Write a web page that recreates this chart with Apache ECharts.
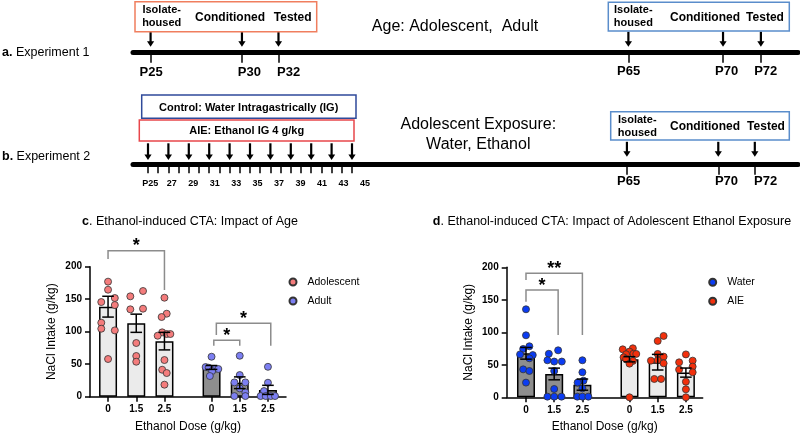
<!DOCTYPE html>
<html>
<head>
<meta charset="utf-8">
<script src="https://cdn.jsdelivr.net/npm/echarts@6.0.0/dist/echarts.min.js"></script>
<style>html,body{margin:0;padding:0;background:#fff;}#chart{width:800px;height:436px;}</style>
</head>
<body>
<div id="chart"></div>
<script>
// ================= DATA =================
const doseLabels = ['0', '1.5', '2.5', '0', '1.5', '2.5'];
const yTickValues = [0, 50, 100, 150, 200];

// Panel c: Impact of Age
const cSeriesNames = ['Adolescent', 'Adult'];
const cMean = [138.5, 113, 85.5, 45, 21.5, 10.5];
const cSem = [16, 14, 13.5, 3, 9, 7];
const cPoints = [
  [177, 164.6, 151.8, 145.6, 141, 113.8, 104.6, 102, 58],
  [162.6, 154.4, 135.4, 134.4, 82.6, 62.6, 53.8],
  [152.3, 127.7, 122.6, 99, 96.4, 96.4, 93.8, 56.4, 41.5, 36.4, 18.5],
  [61.5, 45.6, 44.6, 42.6, 42.6, 39.5, 31.8],
  [63, 33.3, 22, 22, 12.8, 6.7, 1, 1],
  [46, 21.5, 8.7, 1, 1, 1, 1]
];
const cJitter = [
  [0, 0, 0.24, -0.24, 0.24, -0.24, -0.24, 0.24, 0],
  [0.24, -0.21, 0.24, -0.21, 0, 0, 0],
  [0, 0.08, -0.1, -0.08, 0.08, 0.21, -0.24, 0, -0.08, 0.08, 0],
  [0, -0.21, -0.1, 0.1, 0.24, 0.02, -0.06],
  [0, 0, -0.19, 0.2, 0, 0.2, -0.19, 0.2],
  [0, 0, -0.14, -0.26, -0.08, 0.1, 0.25]
];
const cBrFrom = [0, 3, 3];
const cBrTo = [2, 4, 5];
const cBrTop = [224.6, 87, 113];
const cBrLeftEnd = [212, 78.5, 95];
const cBrRightEnd = [164, 78.5, 78.5];
const cBrMark = ['*', '*', '*'];

// Panel d: Impact of Adolescent Ethanol Exposure
const dSeriesNames = ['Water', 'AIE'];
const dMean = [67.7, 35.9, 19.5, 58.5, 54, 38];
const dSem = [9, 9, 8.6, 4, 12, 7];
const dPoints = [
  [135.4, 95.4, 78.5, 74.4, 66, 65, 60, 43, 40.5, 22.6],
  [72.3, 67, 57, 55, 55, 40.5, 12.8, 1, 1, 1],
  [57, 38.5, 25.6, 22.6, 13.8, 1, 1, 1],
  [75.4, 73.8, 70.3, 67, 66.2, 66.7, 61.5, 59, 56, 51.8, 0],
  [94.4, 86.7, 66.7, 62.6, 57, 56.4, 52.3, 28.2, 28.2],
  [66, 56.4, 53.8, 47.2, 42.6, 38.5, 24, 12.3, 0]
];
const dJitter = [
  [0, 0, 0.12, -0.1, -0.21, 0.24, 0.12, -0.1, 0.12, 0],
  [0.14, -0.19, -0.24, 0, 0.27, 0, 0, -0.24, 0, 0.26],
  [0, 0, 0.04, -0.17, 0, -0.18, 0, 0.21],
  [0.12, -0.24, 0, 0.14, -0.12, 0.24, -0.21, -0.12, 0.12, 0, 0],
  [0.21, 0, 0, 0.21, 0, -0.24, 0.21, -0.12, 0.12],
  [0, 0.24, -0.24, 0.24, -0.24, 0.24, 0, 0, 0]
];
const dBrFrom = [0, 0];
const dBrTo = [1, 2];
const dBrTop = [165, 190.8];
const dBrLeftEnd = [147, 180.5];
const dBrRightEnd = [96, 95.8];
const dBrMark = ['*', '**'];

// Timelines (postnatal days)
const exp1AdolDays = [25, 30, 32];
const exp1AdultDays = [65, 70, 72];
const exp2DoseDays = [25, 27, 29, 31, 33, 35, 37, 39, 41, 43, 45];
const exp2TickDays = [25, 26, 27, 28, 29, 30, 31, 32, 33, 34, 35, 36, 37, 38, 39, 40, 41, 42, 43, 44, 45];
const exp2LabelDays = [25, 27, 29, 31, 33, 35, 37, 39, 41, 43, 45];
const exp2AdultDays = [65, 70, 72];

// ================= LAYOUT / STYLE =================
const FONT = "'Liberation Sans', Arial, Helvetica, sans-serif";
const slotPos = [1, 2, 3, 4.67, 5.67, 6.67];
const cBrShift = [[0, 0], [0.08, 0], [0.17, 0.1]];
const dBrShift = [[0, 0.14], [0, 0]];
const LIGHT = '#EBEBEB', DARK = '#8E8E8E';
const COL = { Adolescent: '#F47C7C', Adult: '#7C7FF2', Water: '#0B3CF2', AIE: '#F2300C' };

function doseFmt(v) {
  const i = slotPos.findIndex(p => Math.abs(p - v) < 1e-6);
  return i >= 0 ? doseLabels[i] : '';
}

function xDose(grid, min) {
  return {
    type: 'value', gridIndex: grid, position: 'bottom', min: min, max: min + 6.95,
    name: 'Ethanol Dose (g/kg)', nameLocation: 'middle', nameGap: 23.5,
    nameTextStyle: { fontSize: 12, color: '#000', fontFamily: FONT },
    splitLine: { show: false },
    axisLine: { show: true, onZero: false, lineStyle: { color: '#000', width: 1.5 } },
    axisTick: { show: true, customValues: slotPos, length: 5, lineStyle: { color: '#000', width: 1.5 } },
    axisLabel: { show: true, customValues: slotPos, formatter: doseFmt, margin: 8, fontSize: 10, fontWeight: 'bold', color: '#000', fontFamily: FONT }
  };
}
function yNaCl(grid) {
  return {
    type: 'value', gridIndex: grid, min: 0, max: 200, interval: 50,
    name: 'NaCl Intake (g/kg)', nameLocation: 'middle', nameGap: 32,
    nameTextStyle: { fontSize: 12, color: '#000', fontFamily: FONT },
    splitLine: { show: false },
    axisLine: { show: true, lineStyle: { color: '#000', width: 1.5 } },
    axisTick: { show: true, length: 5, lineStyle: { color: '#000', width: 1.5 } },
    axisLabel: { margin: 8, fontSize: 10, fontWeight: 'bold', color: '#000', fontFamily: FONT }
  };
}
function tAxis(grid, d0, x0, s, opts) {
  const L = 133, W = 665;
  const min = d0 - (x0 - L) / s;
  return Object.assign({
    type: 'value', gridIndex: grid, position: 'bottom', min: min, max: min + W / s,
    splitLine: { show: false }, axisLine: { show: false }, axisTick: { show: false }, axisLabel: { show: false }
  }, opts);
}
function tTicks(days, len) {
  return { show: true, customValues: days, length: len, lineStyle: { color: '#000', width: 1.5 } };
}
function tLabels(days, fmt, margin, size) {
  return { show: true, customValues: days, formatter: fmt, margin: margin, fontSize: size, fontWeight: 'bold', color: '#000', fontFamily: FONT };
}
const thickLine = { show: true, onZero: false, lineStyle: { color: '#000', width: 5 } };

function barSeries(xi, means, darkFirst) {
  return {
    type: 'bar', xAxisIndex: xi, yAxisIndex: xi, barWidth: 18, z: 2, silent: true,
    data: means.map((m, i) => ({
      value: [slotPos[i], m],
      itemStyle: { color: (i < 3) === darkFirst ? DARK : LIGHT, borderColor: '#000', borderWidth: 1.5 }
    }))
  };
}
function scatterSeries(xi, name, pts, jit, groups) {
  const data = [];
  groups.forEach(g => pts[g].forEach((v, k) => data.push([slotPos[g] + jit[g][k], v])));
  return {
    type: 'scatter', name: name, xAxisIndex: xi, yAxisIndex: xi, z: 3, symbol: 'circle', symbolSize: 7,
    itemStyle: { color: COL[name], borderColor: '#333', borderWidth: 0.8, opacity: 1 },
    data: data
  };
}
function errSeries(xi, means, sems) {
  return {
    type: 'custom', xAxisIndex: xi, yAxisIndex: xi, z: 4, silent: true,
    encode: { x: 0, y: [1, 2] },
    data: means.map((m, i) => [slotPos[i], m - sems[i], m + sems[i]]),
    renderItem(params, api) {
      const x = api.value(0);
      const a = api.coord([x, api.value(1)]), b = api.coord([x, api.value(2)]);
      const cw = 5.8, st = { stroke: '#000', lineWidth: 1.5 };
      return { type: 'group', children: [
        { type: 'line', shape: { x1: a[0], y1: a[1], x2: b[0], y2: b[1] }, style: st },
        { type: 'line', shape: { x1: b[0] - cw, y1: b[1], x2: b[0] + cw, y2: b[1] }, style: st },
        { type: 'line', shape: { x1: a[0] - cw, y1: a[1], x2: a[0] + cw, y2: a[1] }, style: st }
      ] };
    }
  };
}
function bracketSeries(xi, from, to, top, le, re, marks, shift) {
  return {
    type: 'custom', xAxisIndex: xi, yAxisIndex: xi, z: 5, clip: false, silent: true,
    encode: { x: [0, 1], y: [2, 3, 4] },
    data: from.map((f, i) => [slotPos[f] + shift[i][0], slotPos[to[i]] + shift[i][1], top[i], le[i], re[i]]),
    renderItem(params, api) {
      const x1 = api.value(0), x2 = api.value(1), t = api.value(2);
      const pL = api.coord([x1, api.value(3)]), pTL = api.coord([x1, t]);
      const pTR = api.coord([x2, t]), pR = api.coord([x2, api.value(4)]);
      const mark = marks[params.dataIndex];
      return { type: 'group', children: [
        { type: 'polyline', shape: { points: [pL, pTL, pTR, pR] }, style: { stroke: '#8C8C8C', lineWidth: 1.5, fill: null } },
        { type: 'text', style: { text: mark, x: (pTL[0] + pTR[0]) / 2, y: pTL[1] - 4.5,
          align: 'center', verticalAlign: 'middle', textAlign: 'center', textVerticalAlign: 'middle',
          fontSize: 18, fontWeight: 'bold', fontFamily: FONT, fill: '#000' } }
      ] };
    }
  };
}
function arrowSeries(xi, yi, days, gap, total) {
  return {
    type: 'custom', xAxisIndex: xi, yAxisIndex: yi, z: 5, clip: false, silent: true,
    encode: { x: 0 },
    data: days.map(d => [d, 0]),
    renderItem(params, api) {
      const p = api.coord([api.value(0), 0]);
      const tip = p[1] - gap, headH = 5.5, hw = 3.6;
      return { type: 'group', children: [
        { type: 'line', shape: { x1: p[0], y1: p[1] - total, x2: p[0], y2: tip - headH + 1 }, style: { stroke: '#000', lineWidth: 2.2 } },
        { type: 'polygon', shape: { points: [[p[0] - hw, tip - headH], [p[0] + hw, tip - headH], [p[0], tip]] }, style: { fill: '#000' } }
      ] };
    }
  };
}

function T(x, y, text, size, weight, align) {
  return { type: 'text', x: x, y: y, silent: true, z: 10,
    style: { text: text, fontSize: size, fontWeight: weight || 'normal', fontFamily: FONT, fill: '#000',
      align: align || 'center', verticalAlign: 'middle', textAlign: align || 'center', textVerticalAlign: 'middle',
      rich: { b: { fontWeight: 'bold', fontSize: size, fontFamily: FONT, fill: '#000' } } } };
}
function B(x, y, w, h, color) {
  return { type: 'rect', silent: true, z: 9, shape: { x: x, y: y, width: w, height: h },
    style: { fill: 'none', stroke: color, lineWidth: 1.5 } };
}

const ORANGE = '#F07E5E', LBLUE = '#5A8DCB', NAVY = '#2F4A9A', RED = '#E8474B';

const option = {
  backgroundColor: '#fff',
  animation: false,
  grid: [
    { left: 90, top: 266.7, width: 196, height: 130, containLabel: false, outerBoundsMode: 'none' },
    { left: 506.7, top: 267.3, width: 196, height: 130, containLabel: false, outerBoundsMode: 'none' },
    { left: 133, top: 10, width: 665, height: 42.7, containLabel: false, outerBoundsMode: 'none' },
    { left: 133, top: 120, width: 665, height: 44.3, containLabel: false, outerBoundsMode: 'none' }
  ],
  xAxis: [
    xDose(0, 0.36),
    xDose(1, 0.316),
    tAxis(2, 29, 223.67, 18.27, { axisLine: thickLine, axisTick: tTicks(exp1AdolDays, 10) }),
    tAxis(2, 29, 229.67, 19.65, { axisLabel: tLabels(exp1AdolDays, v => 'P' + v, 13.5, 13) }),
    tAxis(2, 69, 704.1, 18.93, { axisTick: tTicks(exp1AdultDays, 10) }),
    tAxis(2, 69, 707, 19.58, { axisLabel: tLabels(exp1AdultDays, v => 'P' + v, 12.5, 13) }),
    tAxis(3, 25, 148, 10.2, { axisLine: thickLine, axisTick: tTicks(exp2TickDays, 9) }),
    tAxis(3, 27, 171.7, 10.74, { axisLabel: tLabels(exp2LabelDays, v => v === 25 ? 'P25' : String(v), 14.5, 9) }),
    tAxis(3, 69, 700, 18.27, { axisTick: tTicks(exp2AdultDays, 10.5) }),
    tAxis(3, 69, 706.9, 19.57, { axisLabel: tLabels(exp2AdultDays, v => 'P' + v, 11, 13) })
  ],
  yAxis: [
    yNaCl(0),
    yNaCl(1),
    { type: 'value', gridIndex: 2, min: 0, max: 1, show: false },
    { type: 'value', gridIndex: 3, min: 0, max: 1, show: false }
  ],
  legend: [
    { data: cSeriesNames, orient: 'vertical', left: 283.5, top: 271.5, itemWidth: 7, itemHeight: 11, itemGap: 8,
      icon: 'circle', selectedMode: false, textStyle: { fontSize: 10.5, color: '#000', fontFamily: FONT, padding: [0, 0, 0, 6] } },
    { data: dSeriesNames, orient: 'vertical', left: 703.2, top: 271.8, itemWidth: 7, itemHeight: 11, itemGap: 8,
      icon: 'circle', selectedMode: false, textStyle: { fontSize: 10.5, color: '#000', fontFamily: FONT, padding: [0, 0, 0, 6] } }
  ],
  series: [
    barSeries(0, cMean, false),
    scatterSeries(0, 'Adolescent', cPoints, cJitter, [0, 1, 2]),
    scatterSeries(0, 'Adult', cPoints, cJitter, [3, 4, 5]),
    errSeries(0, cMean, cSem),
    bracketSeries(0, cBrFrom, cBrTo, cBrTop, cBrLeftEnd, cBrRightEnd, cBrMark, cBrShift),
    barSeries(1, dMean, true),
    scatterSeries(1, 'Water', dPoints, dJitter, [0, 1, 2]),
    scatterSeries(1, 'AIE', dPoints, dJitter, [3, 4, 5]),
    errSeries(1, dMean, dSem),
    bracketSeries(1, dBrFrom, dBrTo, dBrTop, dBrLeftEnd, dBrRightEnd, dBrMark, dBrShift),
    arrowSeries(2, 2, exp1AdolDays, 6, 21),
    arrowSeries(4, 2, exp1AdultDays, 6, 21),
    arrowSeries(6, 3, exp2DoseDays, 4.3, 21),
    arrowSeries(8, 3, exp2AdultDays, 7.5, 22.5)
  ],
  graphic: [
    T(2, 53, '{b|a.} Experiment 1', 12.5, 'normal', 'left'),
    T(2, 156.7, '{b|b.} Experiment 2', 12.5, 'normal', 'left'),
    B(135, 1.7, 181.7, 30, ORANGE),
    T(161.7, 10, 'Isolate-', 11, 'bold'),
    T(161.7, 23.3, 'housed', 11, 'bold'),
    T(230, 17.3, 'Conditioned', 12, 'bold'),
    T(292.7, 17.3, 'Tested', 12, 'bold'),
    T(455, 26.7, 'Age: Adolescent,  Adult', 16),
    B(608.3, 2.3, 181, 28.7, LBLUE),
    T(633.3, 10, 'Isolate-', 11, 'bold'),
    T(633.3, 23.3, 'housed', 11, 'bold'),
    T(705, 17.3, 'Conditioned', 12, 'bold'),
    T(765, 17.3, 'Tested', 12, 'bold'),
    B(141.7, 95, 214.3, 23.3, NAVY),
    T(248.7, 107.5, 'Control: Water Intragastrically (IG)', 11, 'bold'),
    B(139.3, 120, 214.7, 21, RED),
    T(246.7, 130.7, 'AIE: Ethanol IG 4 g/kg', 11, 'bold'),
    T(478.3, 124.3, 'Adolescent Exposure:', 16),
    T(478.3, 145, 'Water, Ethanol', 16),
    B(610.7, 111.7, 178.6, 28.3, LBLUE),
    T(637.3, 120, 'Isolate-', 11, 'bold'),
    T(637.3, 133.3, 'housed', 11, 'bold'),
    T(705, 127, 'Conditioned', 12, 'bold'),
    T(766, 127, 'Tested', 12, 'bold'),
    T(190, 221.7, '{b|c}. Ethanol-induced CTA: Impact of Age', 12.5),
    T(612, 221.7, '{b|d}. Ethanol-induced CTA: Impact of Adolescent Ethanol Exposure', 12.5)
  ]
};

const chart = echarts.init(document.getElementById('chart'), null, { renderer: 'canvas' });
chart.setOption(option);
</script>
</body>
</html>
